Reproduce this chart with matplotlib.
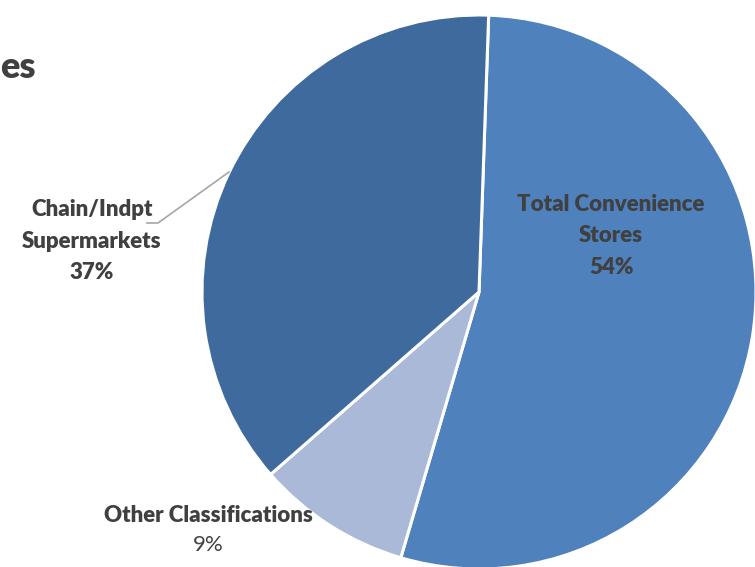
import matplotlib.pyplot as plt

# 店舗タイプ別の構成比
labels = ['Total Convenience\nStores', 'Other Classifications', 'Chain/Indpt\nSupermarkets']
shares = [54, 9, 37]
colors = ['#4F81BD', '#AAB9D7', '#3F6A9D']

plt.rcParams['font.family'] = ['Lato', 'DejaVu Sans']
TXT = '#404040'

fig = plt.figure(figsize=(7.55, 5.67), dpi=100)
ax = fig.add_axes([0, 0, 1, 1])
ax.set_xlim(0, 755)
ax.set_ylim(0, 567)
ax.set_aspect('equal')
ax.axis('off')

cx, cy, r = 479, 567 - 292, 277
wedges, _ = ax.pie(shares, colors=colors, startangle=88, counterclock=False,
                   center=(cx, cy), radius=r,
                   wedgeprops=dict(edgecolor='white', linewidth=2.2))
ax.set_xlim(0, 755)
ax.set_ylim(0, 567)

# ラベル
ax.text(611, 567 - 236, f'{labels[0]}\n{shares[0]}%', ha='center', va='center',
        fontsize=16, fontweight='heavy', color=TXT, linespacing=1.6)
ax.text(92, 567 - 241, f'{labels[2]}\n{shares[2]}%', ha='center', va='center',
        fontsize=16, fontweight='heavy', color=TXT, linespacing=1.6)
ax.text(208, 567 - 516, labels[1], ha='center', va='center',
        fontsize=16, fontweight='heavy', color=TXT)
ax.text(208, 567 - 545, f'{shares[1]}%', ha='center', va='center',
        fontsize=16, color=TXT)

# 引き出し線
ax.plot([147, 158, 229], [567 - 223, 567 - 223, 567 - 172], color='#A6A6A6', lw=1.2)

# タイトルの末尾
ax.text(0, 567 - 68, 'es', ha='left', va='center', fontsize=26,
        fontweight='heavy', color=TXT)

fig.savefig('out.png', dpi=100)
